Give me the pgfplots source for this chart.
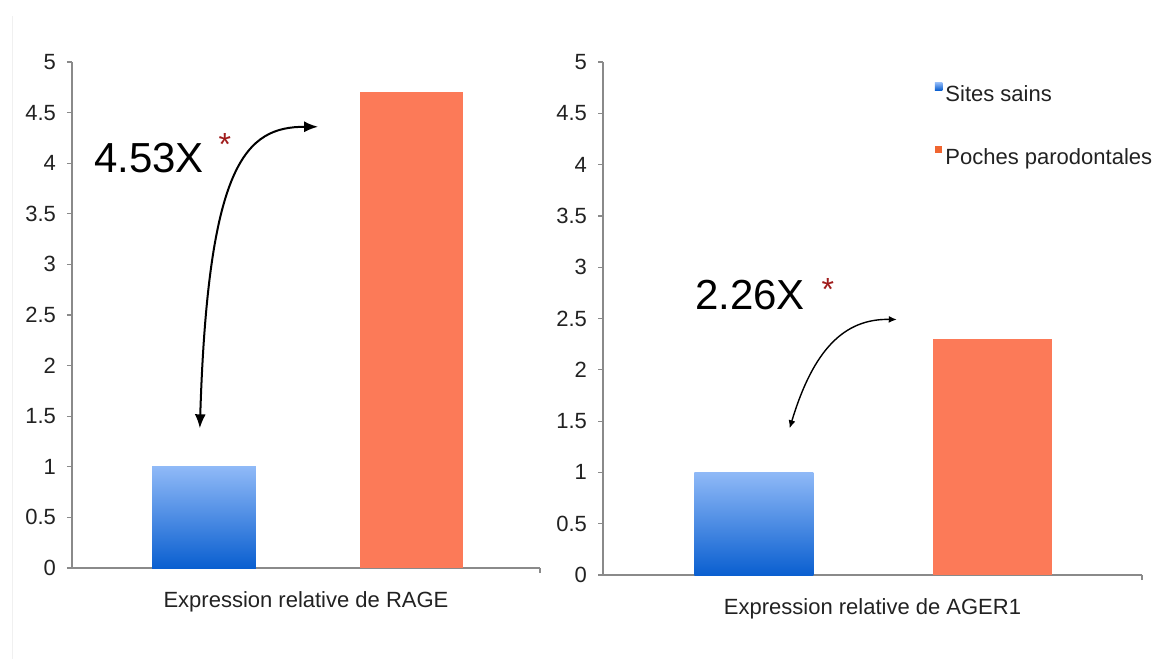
\documentclass[border=0pt]{standalone}
\usepackage{fontspec}
\setmainfont{Liberation Sans}
\usepackage{pgfplots}
\pgfplotsset{compat=1.18}
\usetikzlibrary{arrows.meta}

\definecolor{bluetop}{HTML}{8FB9F7}
\definecolor{bluebot}{HTML}{0A5FD0}
\definecolor{barorange}{HTML}{FC7A58}
\definecolor{legblue}{HTML}{1F6FD8}
\definecolor{legorange}{HTML}{F06530}
\definecolor{axisgray}{HTML}{8A8A8A}
\definecolor{txt}{HTML}{222222}
\definecolor{starred}{HTML}{A01C1C}

\pgfplotsset{
  barpanel/.style={
    scale only axis,
    anchor=south west,
    ymin=0, ymax=5,
    ytick={0,0.5,1,1.5,2,2.5,3,3.5,4,4.5,5},
    axis lines=left,
    axis line style={-, draw=axisgray, line width=0.6pt},
    tick style={draw=axisgray, line width=0.6pt},
    tick align=outside,
    major tick length=2.5pt,
    xticklabels={},
    /pgf/number format/assume math mode=true,
    tick label style={font=\fontsize{11}{13}\selectfont, text=txt},
    yticklabel style={xshift=-2pt},
    ybar, bar width=0.5,
    xlabel style={font=\fontsize{11}{13}\selectfont, text=txt,
      at={(axis description cs:0.5,0)}, anchor=north, yshift=-8pt},
    clip=false,
  },
}

\begin{document}
\begin{tikzpicture}
\path[use as bounding box, fill=white] (0,0) rectangle (587pt,-329.5pt);
\draw[black!6, line width=0.5pt] (6pt,-8pt) -- (6pt,-329.5pt);

% left panel: RAGE
\begin{axis}[barpanel,
  at={(36pt,-284pt)},
  width=234pt, height=253pt,
  xmin=0.364, xmax=2.619,
  xtick={2.619},
  xlabel={Expression relative de RAGE},
]
\addplot[bar shift=0pt, draw=none, top color=bluetop, bottom color=bluebot]
  coordinates {(1,1.0)};
\addplot[bar shift=0pt, draw=none, fill=barorange]
  coordinates {(2,4.70)};
\draw[line width=1pt, {Latex[length=7pt,width=5.5pt]}-{Latex[length=7pt,width=5.5pt]}]
  (axis cs:0.98,1.38) .. controls (axis cs:1.02,4.0) and (axis cs:1.2,4.36) .. (axis cs:1.55,4.36);
\node[font=\fontsize{21}{24}\selectfont, inner sep=0pt] at (axis cs:0.735,4.05) {4.53X};
\node[font=\fontsize{16}{18}\selectfont, text=starred, inner sep=0pt] at (axis cs:1.10,4.18) {*};
\end{axis}

% right panel: AGER1
\begin{axis}[barpanel,
  at={(301.5pt,-287.5pt)},
  width=269.5pt, height=256.5pt,
  xmin=0.366, xmax=2.630,
  xtick={2.630},
  xlabel={Expression relative de AGER1},
  legend style={draw=none, fill=none, at={(rel axis cs:0.615,0.962)}, anchor=north west,
    font=\fontsize{11}{13}\selectfont, text=txt, row sep=18pt, inner sep=0pt,
    nodes={inner xsep=1.5pt}},
  legend cell align=left,
]
\addplot[bar shift=0pt, draw=none, top color=bluetop, bottom color=bluebot,
  legend image code/.code={\fill[legblue] (0pt,2.6pt) rectangle (3.8pt,6.4pt);}]
  coordinates {(1,1.0)};
\addlegendentry{Sites sains}
\addplot[bar shift=0pt, draw=none, fill=barorange,
  legend image code/.code={\fill[legorange] (0pt,2.6pt) rectangle (3.8pt,6.4pt);}]
  coordinates {(2,2.30)};
\addlegendentry{Poches parodontales}
\draw[line width=0.7pt, {Latex[length=4pt,width=3.5pt]}-{Latex[length=4pt,width=3.5pt]}]
  (axis cs:1.15,1.43) .. controls (axis cs:1.25,2.2) and (axis cs:1.38,2.5) .. (axis cs:1.60,2.49);
\node[font=\fontsize{21}{24}\selectfont, inner sep=0pt] at (axis cs:0.983,2.73) {2.26X};
\node[font=\fontsize{16}{18}\selectfont, text=starred, inner sep=0pt] at (axis cs:1.31,2.78) {*};
\end{axis}
\end{tikzpicture}
\end{document}
